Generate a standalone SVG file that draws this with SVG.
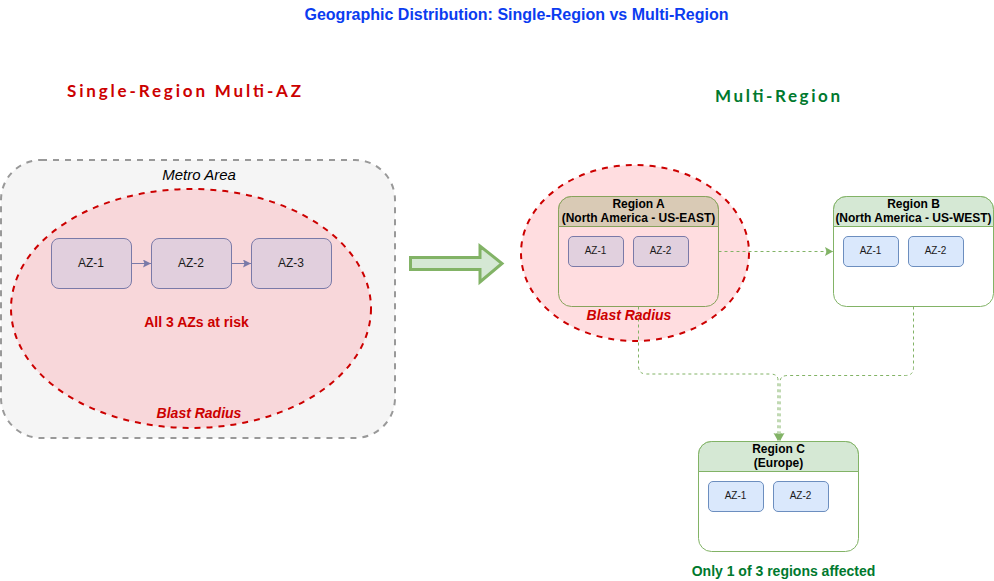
<svg xmlns="http://www.w3.org/2000/svg" width="994" height="581" viewBox="0 0 994 581">
<style>
text{font-family:"Liberation Sans",Arial,sans-serif;text-anchor:middle}
.azm{fill:#e1cfdd;stroke:#7a7aa8;stroke-width:1}
.azr{fill:#e1d0de;stroke:#7a7aa8;stroke-width:1}
.azb{fill:#dae8fc;stroke:#6c8ebf;stroke-width:1}
.t{font-size:12px;fill:#1a1a1a}
.s{font-size:10px;fill:#1a1a1a}
.rb{fill:#fff;stroke:#82b366;stroke-width:1}
.rh{fill:#d5e8d4;stroke:#82b366;stroke-width:1}
.h{font-size:12px;font-weight:bold;fill:#000}
.br{font-size:14px;font-weight:bold;font-style:italic;fill:#cc0000}
.hand{font-family:"Lato","Open Sans",sans-serif;font-size:17px;font-weight:700}
.d{fill:none;stroke:#82b366;stroke-width:1;stroke-dasharray:3 3}
</style>
<defs>
<marker id="ag" markerUnits="userSpaceOnUse" markerWidth="10" markerHeight="10" refX="8" refY="4.5" orient="auto"><path d="M0 0L8 4.500L0 9L1.500 4.500Z" fill="#82b366"/></marker>
<marker id="ap" markerUnits="userSpaceOnUse" markerWidth="10" markerHeight="10" refX="8" refY="4" orient="auto"><path d="M0 0L8 4L0 8L1.500 4Z" fill="#7a7aa8"/></marker>
</defs>
<text id="title" x="516.500" y="20" fill="#0b3cf0" style="font-size:16px;font-weight:bold">Geographic Distribution: Single-Region vs Multi-Region</text>
<text id="label-single" class="hand" x="184" y="97" fill="#cc0000" textLength="234" lengthAdjust="spacing">Single-Region Multi-AZ</text>
<text id="label-multi" class="hand" x="777.500" y="102" fill="#00792e" textLength="125" lengthAdjust="spacing">Multi-Region</text>

<g id="metro">
<rect x="1" y="160" width="394" height="278" rx="40" fill="#f5f5f5" stroke="#999999" stroke-width="2" stroke-dasharray="6 6"/>
<text x="199" y="180" fill="#000" style="font-size:15px;font-style:italic">Metro Area</text>
</g>
<g id="blast-single">
<ellipse cx="191" cy="308.500" rx="180" ry="119.500" fill="#f8d7da" stroke="#cc0000" stroke-width="2" stroke-dasharray="6 6"/>
<text x="196.500" y="327" fill="#cc0000" style="font-size:14px;font-weight:bold">All 3 AZs at risk</text>
<text class="br" x="199" y="418">Blast Radius</text>
</g>
<g id="s-az1"><rect class="azm" x="51.500" y="238.500" width="80" height="50" rx="7.500"/><text class="t" x="91" y="267">AZ-1</text></g>
<g id="s-az2"><rect class="azm" x="151.500" y="238.500" width="80" height="50" rx="7.500"/><text class="t" x="191" y="267">AZ-2</text></g>
<g id="s-az3"><rect class="azm" x="251.500" y="238.500" width="80" height="50" rx="7.500"/><text class="t" x="291" y="267">AZ-3</text></g>

<g id="shift-arrow"><path d="M410.500 257.500H480V246L502 263.500L480 282V269.500H410.500Z" fill="#d5e8d4" stroke="#82b366" stroke-width="3"/></g>

<g id="blast-multi"><ellipse cx="635" cy="253" rx="114" ry="88" fill="#ffdde0" stroke="#cc0000" stroke-width="2" stroke-dasharray="6 6"/></g>

<g id="connectors">
<path d="M131.500 263.500H151" fill="none" stroke="#7a7aa8" stroke-width="1" marker-end="url(#ap)"/>
<path d="M231.500 263.500H251" fill="none" stroke="#7a7aa8" stroke-width="1" marker-end="url(#ap)"/>
<path class="d" d="M718.500 251.500H833" marker-end="url(#ag)"/>
<path class="d" d="M638.500 306.500V366Q638.500 374 646.500 374H770Q778 374 778 380V441" marker-end="url(#ag)"/>
<path class="d" d="M913.500 306.500V367.500Q913.500 375.500 905.500 375.500H788Q780 375.500 780 382V441" marker-end="url(#ag)"/>
</g>

<g id="region-a">
<rect x="558.500" y="196.500" width="160" height="110" rx="13" fill="none" stroke="#88a35c" stroke-width="1"/>
<path d="M558.500 226.500V209.500A13 13 0 0 1 571.500 196.500H705.500A13 13 0 0 1 718.500 209.500V226.500Z" fill="#d9cab5" stroke="#88a35c" stroke-width="1"/>
<text class="h" x="638.500" y="208">Region A</text><text class="h" x="638.500" y="222">(North America - US-EAST)</text>
<rect class="azr" x="568.500" y="236.500" width="55" height="30" rx="4.500"/><text class="s" x="595.500" y="254">AZ-1</text>
<rect class="azr" x="633.500" y="236.500" width="55" height="30" rx="4.500"/><text class="s" x="660.500" y="254">AZ-2</text>
</g>
<text id="blast-a" class="br" x="629" y="320">Blast Radius</text>

<g id="region-b">
<rect class="rb" x="833.500" y="196.500" width="160" height="110" rx="13"/>
<path class="rh" d="M833.500 226.500V209.500A13 13 0 0 1 846.500 196.500H980.500A13 13 0 0 1 993.500 209.500V226.500Z"/>
<text class="h" x="913.500" y="208">Region B</text><text class="h" x="913.500" y="222">(North America - US-WEST)</text>
<rect class="azb" x="843.500" y="236.500" width="55" height="30" rx="4.500"/><text class="s" x="870.500" y="254">AZ-1</text>
<rect class="azb" x="908.500" y="236.500" width="55" height="30" rx="4.500"/><text class="s" x="935.500" y="254">AZ-2</text>
</g>

<g id="region-c">
<rect class="rb" x="698.500" y="441.500" width="160" height="110" rx="13"/>
<path class="rh" d="M698.500 471.500V454.500A13 13 0 0 1 711.500 441.500H845.500A13 13 0 0 1 858.500 454.500V471.500Z"/>
<text class="h" x="778.500" y="453">Region C</text><text class="h" x="778.500" y="467">(Europe)</text>
<rect class="azb" x="708.500" y="481.500" width="55" height="30" rx="4.500"/><text class="s" x="735.500" y="499">AZ-1</text>
<rect class="azb" x="773.500" y="481.500" width="55" height="30" rx="4.500"/><text class="s" x="800.500" y="499">AZ-2</text>
</g>
<text id="note" x="783.500" y="576" fill="#00792e" style="font-size:14px;font-weight:bold">Only 1 of 3 regions affected</text>
</svg>
